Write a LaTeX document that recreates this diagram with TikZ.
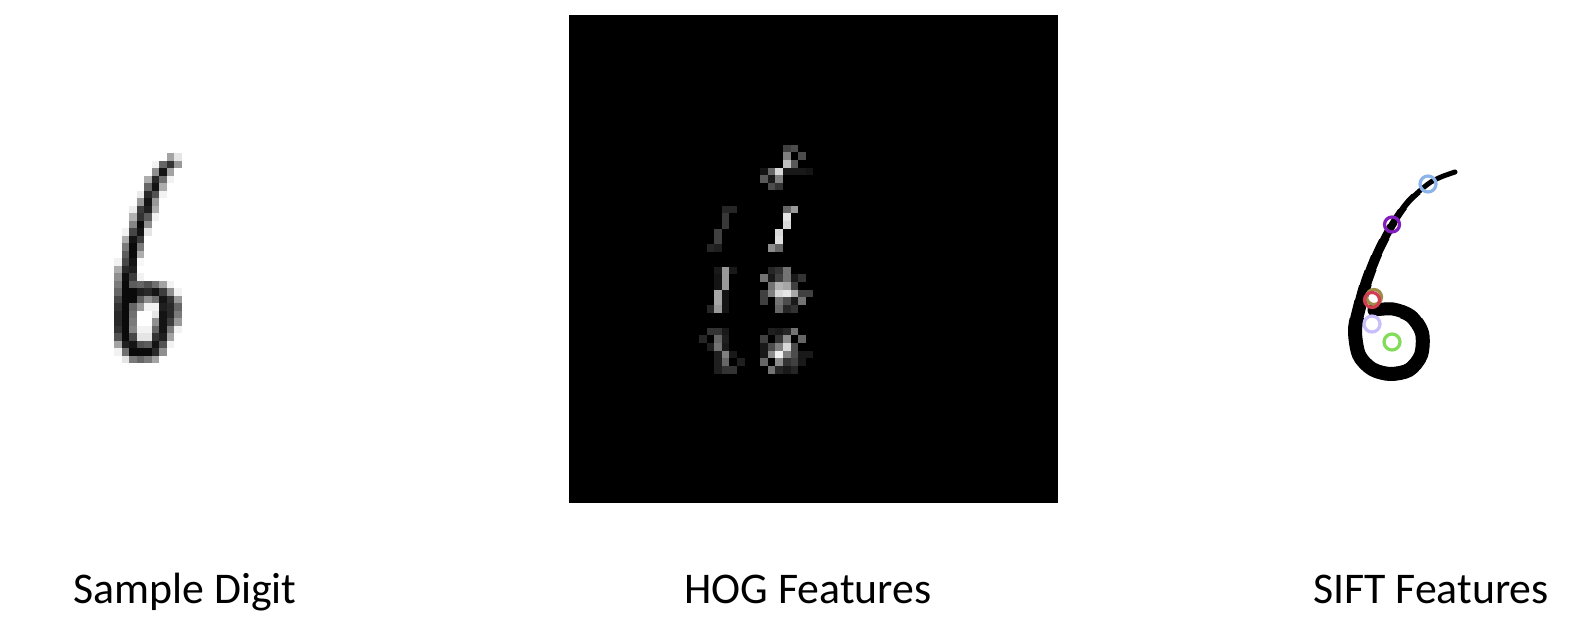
\documentclass[tikz,border=0pt]{standalone}
\usepackage{fontspec}
\setmainfont{Carlito}
\definecolor{siftblue}{RGB}{140,180,235}
\definecolor{siftpurple}{RGB}{130,30,190}
\definecolor{siftred}{RGB}{210,60,80}
\definecolor{siftolive}{RGB}{160,140,70}
\definecolor{siftlav}{RGB}{200,190,250}
\definecolor{siftgreen}{RGB}{130,220,90}
\begin{document}
\begin{tikzpicture}[x=1pt,y=-1pt,
  captiontext/.style={anchor=base, font=\fontsize{43.8}{52}\selectfont, inner sep=0pt},
  ink/.style={draw=black, line cap=round, line join=round},
  kp/.style={line width=3.2pt}]
\useasboundingbox[fill=white] (0,0) rectangle (1586,628);

% ---------- sample digit (pixel image) ----------
\foreach \i/\j/\v in {
 0/5/80, 0/6/90,
 1/3/95, 1/4/50, 1/5/25, 1/6/75,
 2/3/70, 2/4/10, 2/5/80,
 3/2/85, 3/3/20, 3/4/55, 3/5/95,
 4/2/50, 4/3/10, 4/4/85,
 5/1/92, 5/2/20, 5/3/40, 5/4/95,
 6/1/75, 6/2/10, 6/3/75,
 7/0/93, 7/1/30, 7/2/15, 7/3/85,
 8/0/88, 8/1/25, 8/2/45, 8/3/95,
 9/0/65, 9/1/5, 9/2/70,
 10/-1/95, 10/0/35, 10/1/10, 10/2/90,
 11/-1/85, 11/0/10, 11/1/30,
 12/-1/60, 12/0/5, 12/1/60,
 13/-1/45, 13/0/5, 13/1/85,
 14/-2/95, 14/-1/35, 14/0/10, 14/1/97,
 15/-2/85, 15/-1/20, 15/0/15,
 16/-2/70, 16/-1/8, 16/0/30, 16/1/95,
 17/-2/60, 17/-1/5, 17/0/45, 17/1/50, 17/2/40, 17/3/55, 17/4/80, 17/5/95,
 18/-2/50, 18/-1/5, 18/0/5, 18/1/15, 18/2/20, 18/3/10, 18/4/30, 18/5/70, 18/6/95,
 19/-2/35, 19/-1/5, 19/0/5, 19/1/45, 19/2/70, 19/3/55, 19/4/10, 19/5/25, 19/6/75,
 20/-2/25, 20/-1/5, 20/0/50, 20/1/75, 20/2/95, 20/3/95, 20/4/15, 20/5/20, 20/6/50,
 21/-2/20, 21/-1/5, 21/0/55, 21/3/90, 21/4/10, 21/5/20, 21/6/60,
 22/-2/20, 22/-1/5, 22/0/60, 22/3/70, 22/4/10, 22/5/30, 22/6/75,
 23/-2/25, 23/-1/5, 23/0/65, 23/1/95, 23/2/95, 23/3/50, 23/4/10, 23/5/60, 23/6/95,
 24/-2/40, 24/-1/5, 24/0/35, 24/1/90, 24/2/90, 24/3/25, 24/4/15, 24/5/80,
 25/-2/80, 25/-1/15, 25/0/10, 25/1/40, 25/2/45, 25/3/10, 25/4/40, 25/5/95,
 26/-2/95, 26/-1/55, 26/0/5, 26/1/5, 26/2/5, 26/3/20, 26/4/70,
 27/-1/90, 27/0/60, 27/1/50, 27/2/60, 27/3/80}
 {\pgfmathtruncatemacro{\vv}{\v<90 ? 0.8*\v : \v}
  \fill[white!\vv!black] ({129+7.5*\j},{153.3+7.5*\i}) rectangle ++(7.5,7.5);}

% ---------- HOG features ----------
\fill[black] (569,15) rectangle (1058,503);
\foreach \c/\r/\v in {
 28/17/25, 29/17/30,
 28/18/50, 30/18/30,
 28/19/75, 29/19/35,
 25/20/8, 26/20/40, 27/20/85, 28/20/10, 29/20/10, 30/20/10, 31/20/8,
 25/21/35, 26/21/10, 27/21/50,
 26/22/30, 27/22/20,
 28/25/40, 29/25/60,
 28/26/90, 28/27/85, 27/28/85, 27/29/88, 26/30/55, 27/30/40,
 20/25/15, 21/25/15, 20/26/22, 20/27/22, 19/28/25, 19/29/25, 18/30/15, 19/30/12,
 19/33/10, 20/33/60, 21/33/10,
 19/34/8, 20/34/60,
 19/35/8, 20/35/60,
 19/36/65, 20/36/8,
 19/37/65, 20/37/8,
 18/38/15, 19/38/60, 20/38/8,
 26/33/15, 27/33/20, 28/33/45,
 25/34/45, 26/34/10, 27/34/25, 28/34/45, 29/34/10, 30/34/20,
 26/35/45, 27/35/70, 28/35/65, 29/35/25,
 25/36/25, 26/36/50, 27/36/85, 28/36/90, 29/36/65, 30/36/25, 31/36/25,
 25/37/25, 27/37/45, 28/37/30, 29/37/10, 30/37/45,
 27/38/40, 28/38/15, 29/38/20,
 18/41/20, 19/41/20, 20/41/10,
 17/42/15, 19/42/40, 20/42/12,
 18/43/12, 19/43/45, 20/43/10,
 19/44/12, 20/44/50, 21/44/10,
 19/45/12, 20/45/40, 22/45/12,
 19/46/12, 20/46/20, 21/46/20,
 26/41/12, 27/41/10, 28/41/15, 29/41/45,
 25/42/25, 27/42/20, 28/42/55, 30/42/40,
 25/43/10, 26/43/30, 27/43/50, 28/43/85, 29/43/30,
 25/44/10, 26/44/55, 27/44/95, 28/44/50, 29/44/30, 30/44/10, 31/44/10,
 25/45/40, 27/45/55, 28/45/20, 29/45/25, 30/45/10,
 26/46/45, 27/46/15, 28/46/10, 29/46/15}
 \fill[white!\v!black] ({569+7.64*\c},{15+7.63*\r}) rectangle ++(7.64,7.63);

% ---------- SIFT features ----------
\def\siftpath{plot[smooth] coordinates {(1455,172) (1441,177) (1428,184) (1408,202) (1392,225) (1378,252) (1367,280) (1360,305) (1355,330) (1359,355) (1372,369) (1390,374) (1409,370) (1421,355) (1422,333) (1411,316) (1393,309) (1374,310)}}
\draw[ink, line width=5] \siftpath;
\foreach \yy/\w in {195/6, 210/7, 225/8, 240/9, 255/10, 270/11, 285/12, 300/13, 318/14}{
  \begin{scope}
    \clip (1300,\yy) rectangle (1500,420);
    \draw[ink, line width=\w] \siftpath;
  \end{scope}
}
\draw[kp, siftblue] (1428,184) circle (8);
\draw[kp, siftpurple] (1392,224.5) circle (7.5);
\draw[kp, siftolive] (1374,297) circle (7.5);
\draw[kp, siftred] (1372,300) circle (7.5);
\draw[kp, siftlav] (1372,324) circle (8);
\draw[kp, siftgreen] (1392,342) circle (8);

% ---------- captions ----------
\node[captiontext] (capdigit) at (185,603) {Sample Digit};
\node[captiontext] (caphog) at (808,603) {HOG Features};
\node[captiontext] (capsift) at (1431,603) {SIFT Features};
\end{tikzpicture}
\end{document}
